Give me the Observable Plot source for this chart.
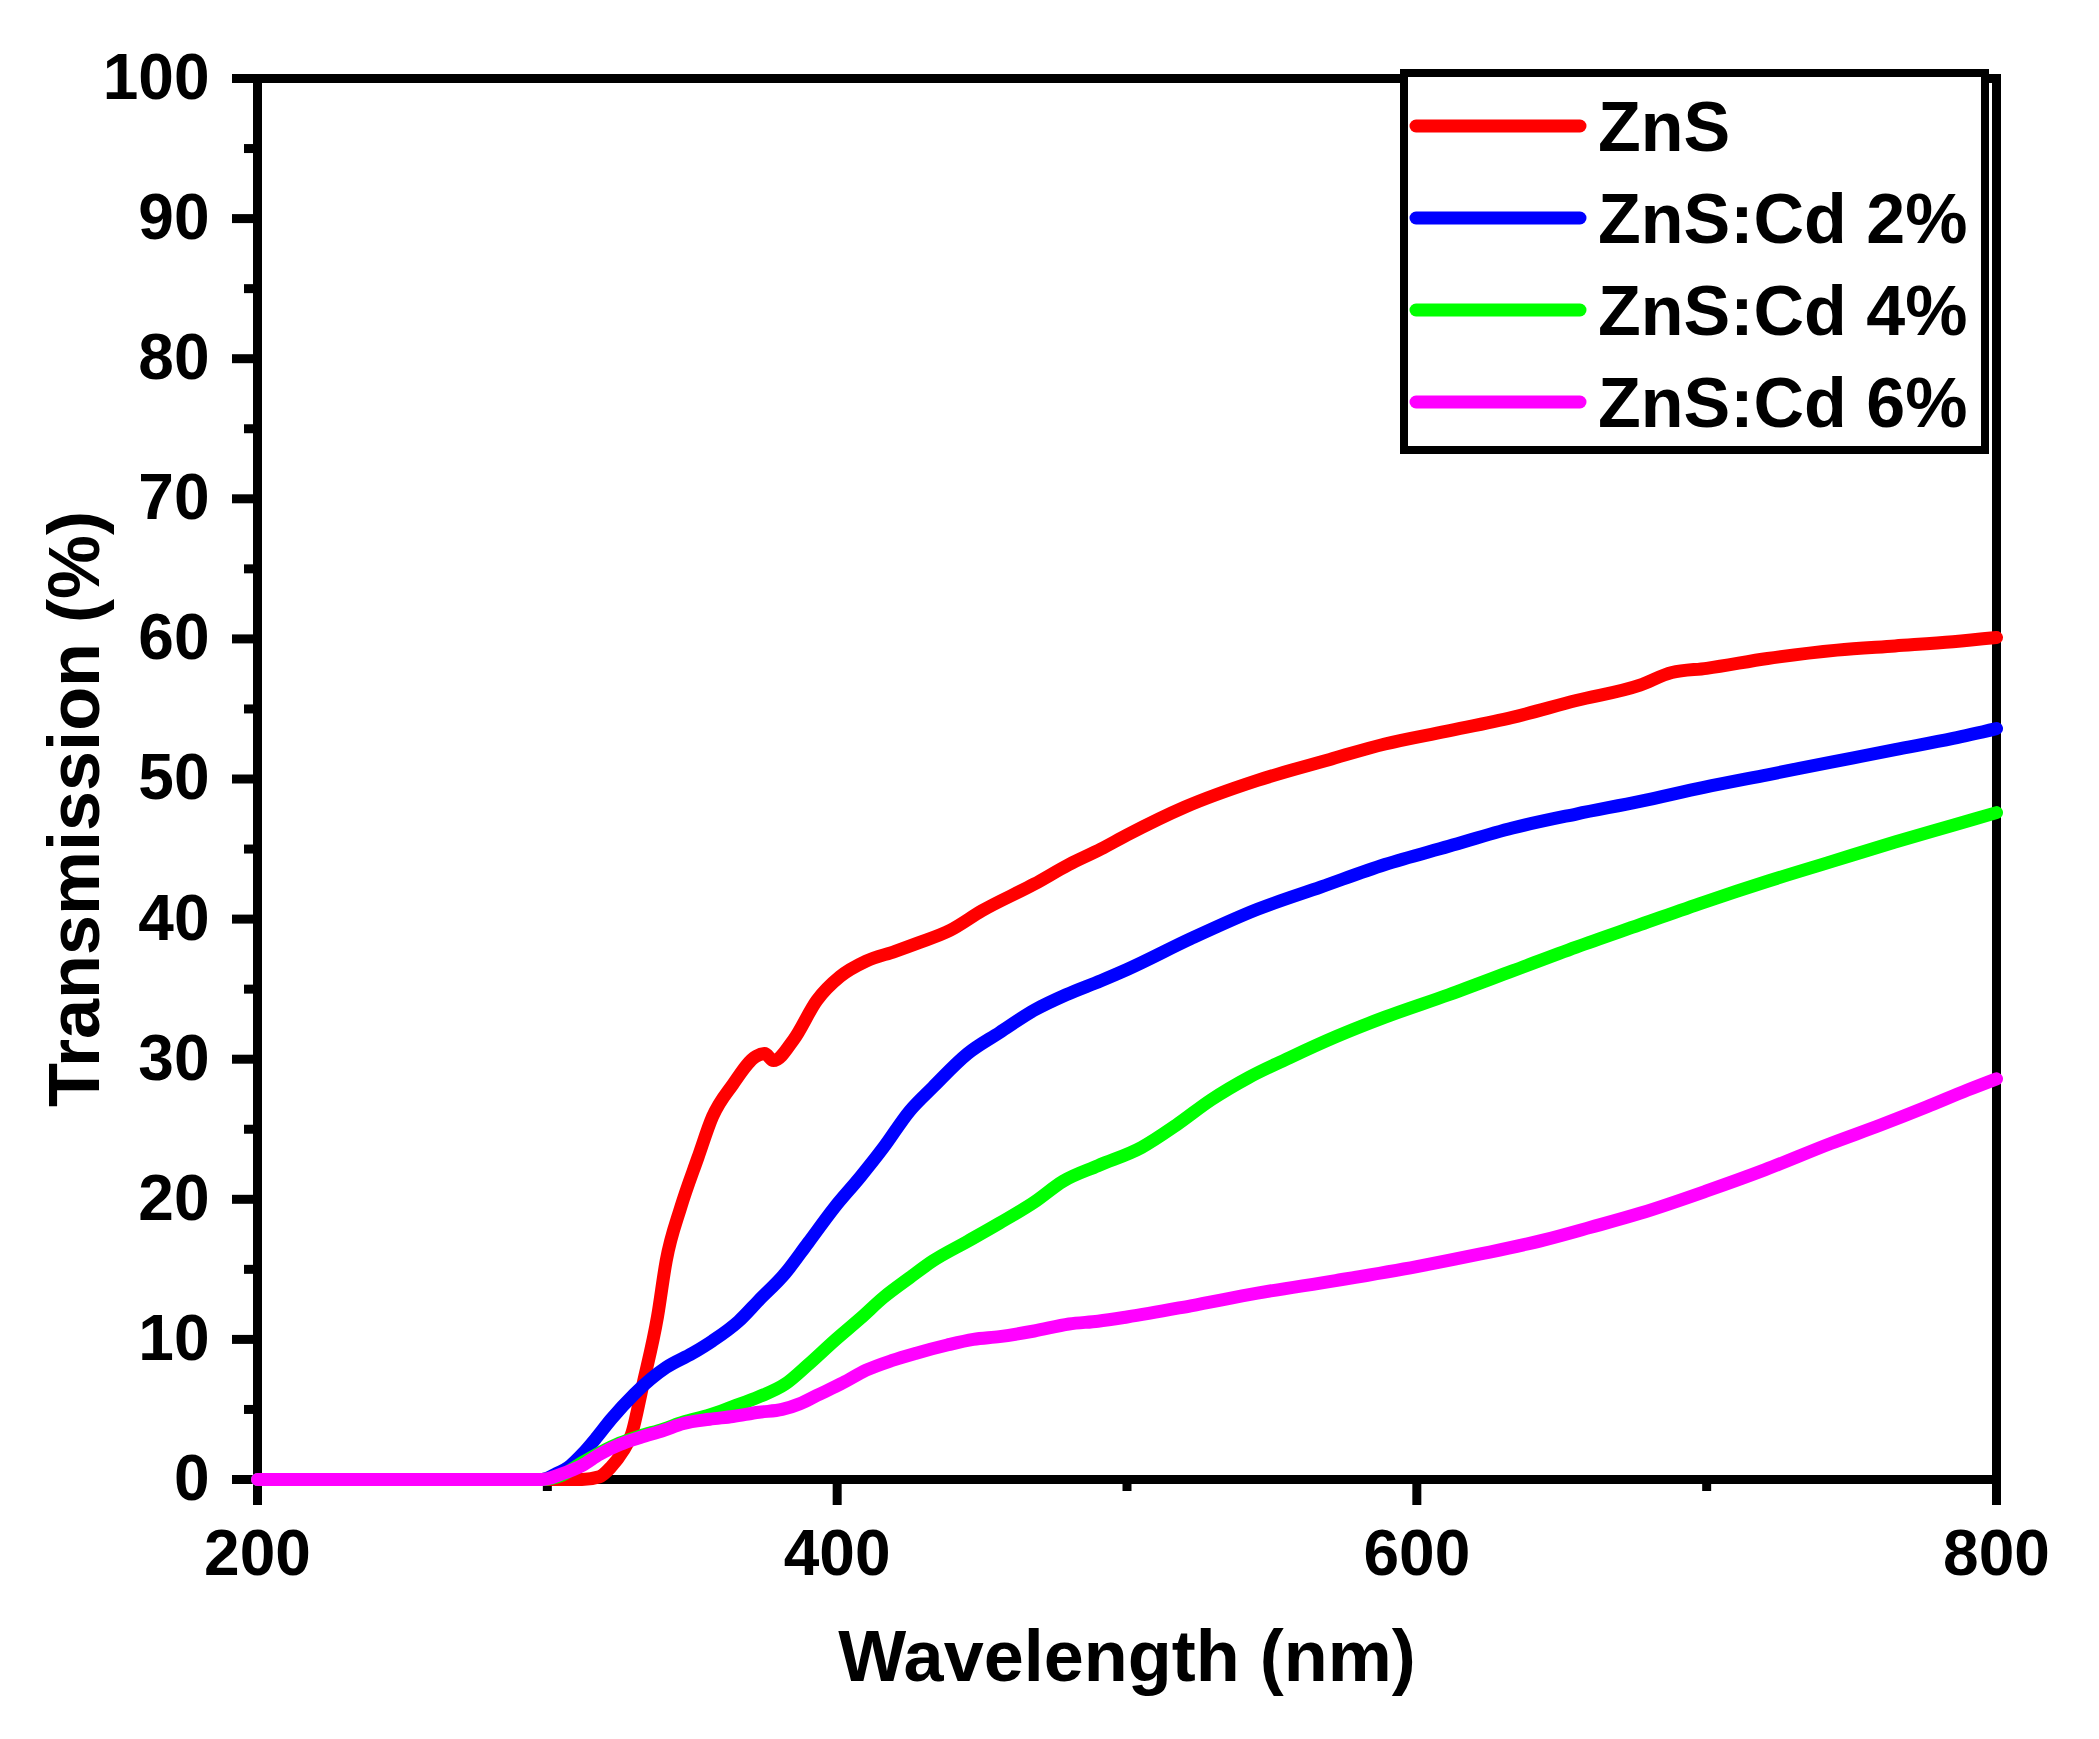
<!DOCTYPE html>
<html>
<head>
<meta charset="utf-8">
<script src="https://cdn.jsdelivr.net/npm/d3@7"></script>
<script src="https://cdn.jsdelivr.net/npm/@observablehq/plot@0.6"></script>
<style>
  html, body { margin: 0; padding: 0; background: #ffffff; }
  #chart { position: relative; width: 2099px; height: 1739px; }
</style>
</head>
<body>
<div id="chart"></div>
<script>
// ---------- data ----------
const seriesNames = ["ZnS", "ZnS:Cd 2%", "ZnS:Cd 4%", "ZnS:Cd 6%"];
const seriesColors = ["#ff0000", "#0000ff", "#00ff00", "#ff00ff"];

const znsWl = [200, 300, 312, 318, 322, 326, 329, 333, 338, 341, 346, 352, 357, 364, 372, 375, 378, 385, 393, 401, 410, 420, 428, 439, 450, 468, 480, 491, 500, 520, 545, 570, 589, 610, 633, 655, 677, 688, 700, 721, 745, 765, 785, 800];
const znsT  = [0, 0, 0, 0.2, 0.9, 2.0, 3.2, 6.8, 11.6, 15.6, 19.4, 23.0, 25.9, 28.2, 30.2, 30.4, 29.9, 31.4, 34.2, 35.9, 37.0, 37.7, 38.3, 39.2, 40.6, 42.5, 43.9, 45.0, 46.0, 48.0, 49.9, 51.4, 52.5, 53.4, 54.4, 55.6, 56.7, 57.6, 57.9, 58.6, 59.2, 59.5, 59.8, 60.1];

const cd2Wl = [200, 298, 303, 308, 312, 317, 322, 330, 341, 350, 357, 366, 373, 382, 390, 399, 408, 416, 425, 433, 445, 456, 468, 479, 491, 500, 522, 545, 567, 589, 611, 633, 655, 677, 699, 721, 743, 765, 785, 800];
const cd2T  = [0, 0, 0.4, 1.0, 1.8, 3.0, 4.3, 6.1, 8.0, 9.0, 9.9, 11.3, 12.8, 14.7, 16.9, 19.4, 21.6, 23.7, 26.3, 28.0, 30.4, 31.9, 33.5, 34.6, 35.6, 36.4, 38.6, 40.7, 42.3, 43.9, 45.2, 46.5, 47.5, 48.4, 49.4, 50.3, 51.2, 52.1, 52.9, 53.6];

const cd4Wl = [200, 298, 305, 312, 318, 325, 332, 340, 347, 356, 364, 373, 382, 390, 399, 408, 416, 425, 433, 445, 456, 468, 478, 490, 505, 517, 529, 542, 556, 572, 589, 611, 633, 655, 677, 699, 721, 743, 765, 785, 800];
const cd4T  = [0, 0, 0.3, 1.2, 1.9, 2.6, 3.1, 3.6, 4.1, 4.6, 5.2, 5.9, 6.8, 8.2, 9.9, 11.5, 13.0, 14.4, 15.6, 17.0, 18.3, 19.8, 21.3, 22.4, 23.7, 25.3, 27.1, 28.7, 30.1, 31.6, 33.0, 34.6, 36.3, 38.0, 39.6, 41.2, 42.7, 44.1, 45.5, 46.7, 47.6];

const cd6Wl = [200, 298, 305, 312, 318, 325, 332, 340, 347, 356, 364, 373, 381, 387, 393, 402, 410, 419, 427, 438, 447, 456, 468, 480, 490, 500, 522, 545, 572, 600, 622, 644, 660, 677, 700, 720, 743, 760, 776, 790, 800];
const cd6T  = [0, 0, 0.4, 1.0, 1.8, 2.5, 3.0, 3.5, 4.0, 4.3, 4.5, 4.8, 5.0, 5.4, 6.0, 6.9, 7.8, 8.5, 9.0, 9.6, 10.0, 10.2, 10.6, 11.1, 11.3, 11.6, 12.4, 13.3, 14.2, 15.2, 16.1, 17.1, 18.0, 19.0, 20.6, 22.1, 24.0, 25.3, 26.6, 27.8, 28.6];

const xMajorTicks = [200, 400, 600, 800];
const xMinorTicks = [300, 500, 700];
const yMajorTicks = [0, 10, 20, 30, 40, 50, 60, 70, 80, 90, 100];
const yMinorTicks = [5, 15, 25, 35, 45, 55, 65, 75, 85, 95];
const xTitle = "Wavelength (nm)";
const yTitle = "Transmission (%)";

// ---------- table for the library ----------
const seriesData = [[znsWl, znsT], [cd2Wl, cd2T], [cd4Wl, cd4T], [cd6Wl, cd6T]];
const rows = [];
seriesData.forEach(([wl, t], i) => {
  wl.forEach((w, j) => rows.push({series: seriesNames[i], wl: w, t: t[j]}));
});

// ---------- layout ----------
const W = 2099, H = 1739;
const mL = 257, mR = 103, mT = 78, mB = 260;
const font = "'Liberation Sans', Arial, Helvetica, sans-serif";

const chart = Plot.plot({
  width: W,
  height: H,
  marginLeft: mL,
  marginRight: mR,
  marginTop: mT,
  marginBottom: mB,
  style: {fontFamily: font, fontWeight: "bold", color: "#000", background: "#fff"},
  x: {type: "linear", domain: [200, 800]},
  y: {type: "linear", domain: [0, 100]},
  color: {domain: seriesNames, range: seriesColors},
  marks: [
    Plot.axisX({ticks: xMajorTicks, tickSize: 26, tickPadding: 24, strokeWidth: 9, fontSize: 64, fontWeight: "bold", label: null, tickFormat: d => String(d)}),
    Plot.axisX({ticks: xMinorTicks, tickSize: 12, strokeWidth: 9, tickFormat: () => "", label: null}),
    Plot.axisY({ticks: yMajorTicks, tickSize: 25, tickPadding: 23, strokeWidth: 9, fontSize: 64, fontWeight: "bold", label: null, tickFormat: d => String(d)}),
    Plot.axisY({ticks: yMinorTicks, tickSize: 13, strokeWidth: 9, tickFormat: () => "", label: null}),
    Plot.frame({stroke: "#000", strokeWidth: 9}),
    Plot.text([xTitle], {text: d => d, frameAnchor: "bottom", textAnchor: "middle", lineAnchor: "middle", dy: 178, fontSize: 72, fontWeight: "bold", fill: "#000"}),
    Plot.text([yTitle], {text: d => d, frameAnchor: "left", textAnchor: "middle", lineAnchor: "middle", rotate: -90, dx: -182, dy: 30, fontSize: 72, fontWeight: "bold", fill: "#000"}),
    Plot.line(rows, {x: "wl", y: "t", z: "series", stroke: "series", strokeWidth: 13, strokeLinejoin: "round", strokeLinecap: "round", curve: "monotone-x"})
  ]
});

document.getElementById("chart").appendChild(chart);

// ---------- legend (inside the plot, top right) ----------
const svg = d3.select(chart);
const frameRight = W - mR;
const boxW = 581, boxH = 377;
const boxX = frameRight - 592, boxY = mT - 5;
const lg = svg.append("g").attr("class", "legend").attr("text-anchor", "start");
lg.append("rect")
  .attr("x", boxX).attr("y", boxY)
  .attr("width", boxW).attr("height", boxH)
  .attr("fill", "#fff").attr("stroke", "#000").attr("stroke-width", 8);
seriesNames.forEach((name, i) => {
  const cy = boxY + 53 + i * 92;
  lg.append("line")
    .attr("x1", boxX + 12).attr("x2", boxX + 176)
    .attr("y1", cy).attr("y2", cy)
    .attr("stroke", seriesColors[i]).attr("stroke-width", 13)
    .attr("stroke-linecap", "round");
  lg.append("text")
    .attr("x", boxX + 194).attr("y", cy + 25)
    .attr("text-anchor", "start")
    .attr("font-family", font).attr("font-weight", "bold")
    .attr("font-size", 70).attr("fill", "#000")
    .text(name);
});
</script>
</body>
</html>
